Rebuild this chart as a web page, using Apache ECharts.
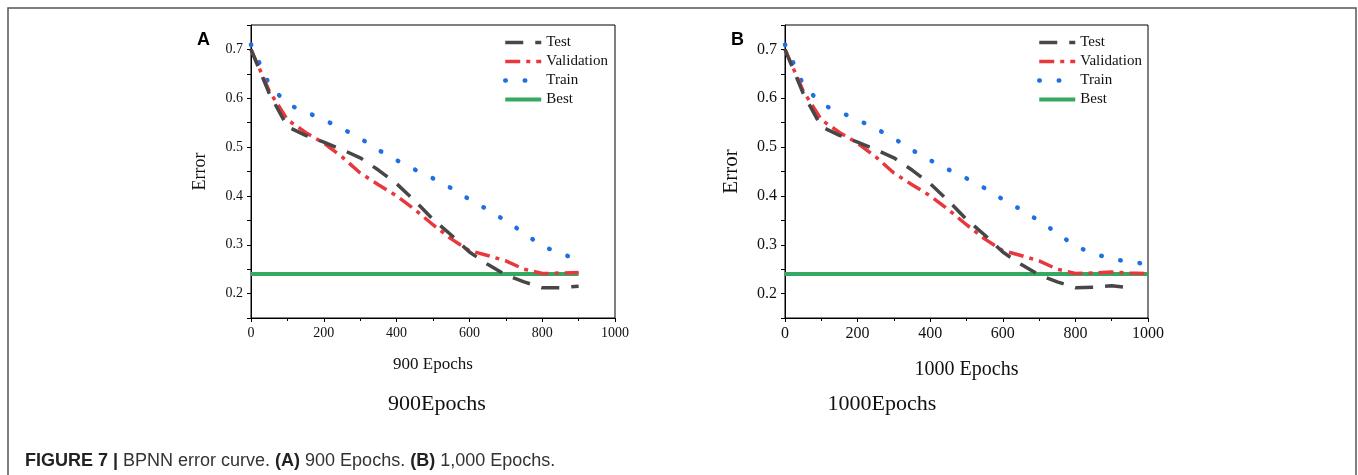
<!DOCTYPE html>
<html>
<head>
<meta charset="utf-8">
<script src="https://cdn.jsdelivr.net/npm/echarts@6/dist/echarts.min.js"></script>
<style>
  html, body { margin: 0; padding: 0; background: #fff; }
  #chart { width: 1358px; height: 475px; }
</style>
</head>
<body>
<div id="chart"></div>
<script>
// epochs (x values)
const epochsA = [0, 50, 100, 150, 200, 250, 300, 350, 400, 450, 500, 550, 600, 650, 700, 750, 800, 850, 900];
const epochsB = [0, 50, 100, 150, 200, 250, 300, 350, 400, 450, 500, 550, 600, 650, 700, 750, 800, 850, 900, 950, 1000];

// panel A - 900 epochs
const testA  = [0.70, 0.61, 0.542, 0.524, 0.51, 0.495, 0.478, 0.453, 0.425, 0.39, 0.352, 0.32, 0.285, 0.26, 0.238, 0.224, 0.212, 0.212, 0.215];
const validA = [0.70, 0.615, 0.556, 0.53, 0.508, 0.48, 0.447, 0.423, 0.40, 0.372, 0.341, 0.312, 0.288, 0.278, 0.267, 0.25, 0.241, 0.242, 0.243];
const trainA = [0.71, 0.628, 0.588, 0.572, 0.556, 0.538, 0.518, 0.494, 0.473, 0.454, 0.436, 0.416, 0.393, 0.372, 0.349, 0.324, 0.297, 0.283, 0.268];

// panel B - 1000 epochs
const testB  = [0.70, 0.61, 0.542, 0.524, 0.51, 0.495, 0.478, 0.453, 0.425, 0.39, 0.352, 0.32, 0.285, 0.26, 0.238, 0.224, 0.212, 0.213, 0.216, 0.212, null];
const validB = [0.70, 0.615, 0.556, 0.53, 0.508, 0.48, 0.447, 0.423, 0.40, 0.372, 0.341, 0.312, 0.288, 0.278, 0.267, 0.25, 0.241, 0.242, 0.244, 0.242, 0.241];
const trainB = [0.71, 0.628, 0.588, 0.572, 0.556, 0.538, 0.518, 0.494, 0.473, 0.454, 0.436, 0.416, 0.393, 0.372, 0.349, 0.324, 0.297, 0.282, 0.271, 0.265, 0.26];

const bestError = 0.24;
const seriesNames = ['Test', 'Validation', 'Train', 'Best'];
const yTicks = [0.2, 0.3, 0.4, 0.5, 0.6, 0.7];

const serif = 'Liberation Serif';
const sans = 'Liberation Sans';

let myChart = echarts.init(document.getElementById('chart'));

const pairs = (xs, ys) => xs.map((x, i) => [x, ys[i]]);

// styles per series
const styles = {
  Test: { color: '#474747', width: 3.5, type: [18, 12], cap: 'butt' },
  Validation: { color: '#e8373d', width: 3.5, type: [15, 6, 4, 6], cap: 'butt' },
  Train: { color: '#1f6fe3', width: 4.5, type: [0.5, 19], cap: 'round' },
  Best: { color: '#37a862', width: 4, type: 'solid', cap: 'butt' }
};

function makeSeries (name, data, idx) {
  const s = styles[name];
  return {
    name: name,
    type: 'line',
    xAxisIndex: idx,
    yAxisIndex: idx,
    data: data,
    symbol: 'none',
    color: s.color,
    lineStyle: { color: s.color, width: s.width, type: s.type, cap: s.cap },
    z: name === 'Best' ? 1 : 2,
    animation: false
  };
}

function xAxisOf (idx, name, nameSize, nameGap, labelSize) {
  return {
    type: 'value',
    gridIndex: idx,
    min: 0,
    max: 1000,
    interval: 200,
    name: name,
    nameLocation: 'middle',
    nameGap: nameGap,
    nameTextStyle: { fontFamily: serif, fontSize: nameSize, color: '#111' },
    axisLine: { lineStyle: { color: '#000', width: 1 } },
    axisTick: { show: true, length: 4, lineStyle: { color: '#000' } },
    minorTick: { show: true, splitNumber: 2, length: 3, lineStyle: { color: '#000' } },
    axisLabel: { fontFamily: serif, fontSize: labelSize, color: '#111', margin: 8, formatter: (v) => String(v) },
    splitLine: { show: false }
  }
}

function yAxisOf (idx, nameSize, nameGap, labelSize) {
  return {
    type: 'value',
    gridIndex: idx,
    min: 0.15,
    max: 0.75,
    interval: 0.05,
    name: 'Error',
    nameLocation: 'middle',
    nameGap: nameGap,
    nameRotate: 90,
    nameTextStyle: { fontFamily: serif, fontSize: nameSize, color: '#111' },
    axisLine: { show: true, lineStyle: { color: '#000', width: 1 } },
    axisTick: { show: true, length: 4, lineStyle: { color: '#000' } },
    axisLabel: {
      fontFamily: serif, fontSize: labelSize, color: '#111', margin: 8,
      formatter: (v) => {
        const hit = yTicks.find(t => Math.abs(t - v) < 1e-6);
        return hit !== undefined ? hit.toFixed(1) : '';
      }
    },
    splitLine: { show: false }
  }
}

function legendOf (left, fontSize) {
  return {
    data: seriesNames,
    orient: 'vertical',
    left: left,
    top: 35,
    padding: 0,
    itemWidth: 36,
    itemHeight: 14,
    itemGap: 4,
    itemStyle: { opacity: 0 },
    lineStyle: { width: 'inherit' },
    textStyle: { fontFamily: serif, fontSize: fontSize, color: '#111' }
  }
}

let baseOption = {
  backgroundColor: '#fff',
  animation: false,
  title: [
    { text: 'A', left: 192, top: 26, textStyle: { fontFamily: sans, fontSize: 18, fontWeight: 'bold', color: '#000' } },
    { text: 'B', left: 726, top: 26, textStyle: { fontFamily: sans, fontSize: 18, fontWeight: 'bold', color: '#000' } },
    { text: '900Epochs', left: 432, top: 399, textAlign: 'center', textVerticalAlign: 'middle',
      textStyle: { fontFamily: serif, fontSize: 22, fontWeight: 'normal', color: '#111' } },
    { text: '1000Epochs', left: 877, top: 399, textAlign: 'center', textVerticalAlign: 'middle',
      textStyle: { fontFamily: serif, fontSize: 22, fontWeight: 'normal', color: '#111' } },
    {
      text: '{b|FIGURE 7 |} BPNN error curve. {b|(A)} 900 Epochs. {b|(B)} 1,000 Epochs.',
      left: 20, top: 456, textVerticalAlign: 'middle',
      textStyle: {
        fontFamily: sans, fontSize: 18, fontWeight: 'normal', color: '#333',
        rich: { b: { fontFamily: sans, fontSize: 18, fontWeight: 'bold', color: '#222' } }
      }
    }
  ],
  legend: [legendOf(503, 15), legendOf(1037, 15)],
  grid: [
    { left: 251, right: 743, top: 25, bottom: 157, show: true, borderColor: '#000', borderWidth: 1, backgroundColor: 'transparent' },
    { left: 785, right: 210, top: 25, bottom: 157, show: true, borderColor: '#000', borderWidth: 1, backgroundColor: 'transparent' }
  ],
  xAxis: [
    xAxisOf(0, '900 Epochs', 17, 38, 14),
    xAxisOf(1, '1000 Epochs', 20, 42, 16)
  ],
  yAxis: [
    yAxisOf(0, 18, 42, 14),
    yAxisOf(1, 21, 43, 16)
  ],
  series: [
    makeSeries('Best', [[0, bestError], [900, bestError]], 0),
    makeSeries('Train', pairs(epochsA, trainA), 0),
    makeSeries('Validation', pairs(epochsA, validA), 0),
    makeSeries('Test', pairs(epochsA, testA), 0),
    makeSeries('Best', [[0, bestError], [1000, bestError]], 1),
    makeSeries('Train', pairs(epochsB, trainB), 1),
    makeSeries('Validation', pairs(epochsB, validB), 1),
    makeSeries('Test', pairs(epochsB, testB), 1)
  ],
  // figure frame
  graphic: [
    {
      type: 'rect',
      silent: true,
      shape: { x: 8, y: 8, width: 1348, height: 500 },
      style: { fill: 'none', stroke: '#555', lineWidth: 1.5 }
    }
  ]
}

myChart.setOption(baseOption);
</script>
</body>
</html>
